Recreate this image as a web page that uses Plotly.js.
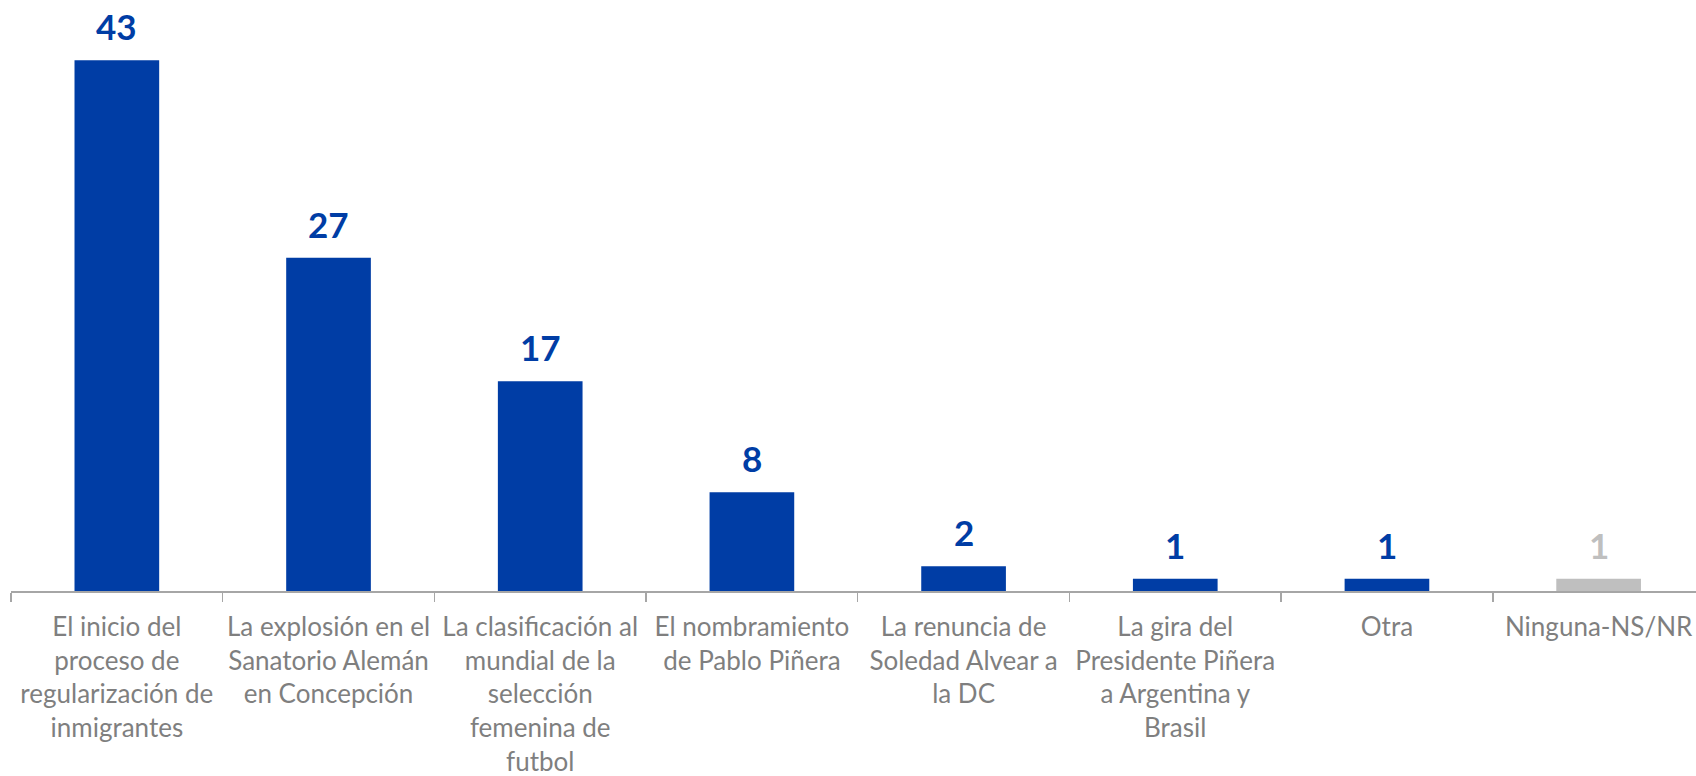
<!DOCTYPE html>
<html>
<head>
<meta charset="utf-8">
<script src="https://cdn.plot.ly/plotly-3.0.1.min.js"></script>
<style>html,body{margin:0;padding:0;background:#fff;}#chart{width:1696px;height:776px;}</style>
</head>
<body>
<div id="chart"></div>
<script>
const categories = [
  "El inicio del proceso de regularización de inmigrantes",
  "La explosión en el Sanatorio Alemán en Concepción",
  "La clasificación al mundial de la selección femenina de futbol",
  "El nombramiento de Pablo Piñera",
  "La renuncia de Soledad Alvear a la DC",
  "La gira del Presidente Piñera a Argentina y Brasil",
  "Otra",
  "Ninguna-NS/NR"
];
const tickLabels = [
  "El inicio del<br>proceso de<br>regularización de<br>inmigrantes",
  "La explosión en el<br>Sanatorio Alemán<br>en Concepción",
  "La clasificación al<br>mundial de la<br>selección<br>femenina de<br>futbol",
  "El nombramiento<br>de Pablo Piñera",
  "La renuncia de<br>Soledad Alvear a<br>la DC",
  "La gira del<br>Presidente Piñera<br>a Argentina y<br>Brasil",
  "Otra",
  "Ninguna-NS/NR"
];
const values = [43, 27, 17, 8, 2, 1, 1, 1];

const BLUE = "#003DA5", GREY = "#BFBFBF";
const barColors = categories.map((c, i) => i === categories.length - 1 ? GREY : BLUE);

const trace = {
  type: "bar",
  x: categories,
  y: values,
  marker: {color: barColors},
  hoverinfo: "x+y"
};

const annotations = categories.map((c, i) => ({
  x: c, y: values[i], xref: "x", yref: "y",
  text: String(values[i]),
  showarrow: false, yanchor: "bottom", yshift: 11,
  font: {family: "Lato, 'Open Sans', sans-serif", size: 35, color: barColors[i], weight: 700}
}));

const layout = {
  width: 1696, height: 776,
  margin: {l: 11, r: 0, t: 0, b: 185},
  paper_bgcolor: "#ffffff", plot_bgcolor: "#ffffff",
  bargap: 0.6,
  showlegend: false,
  xaxis: {
    type: "category",
    range: [-0.5, 7.46],
    tickmode: "array",
    tickvals: categories,
    ticktext: tickLabels,
    tickson: "boundaries",
    ticks: "outside", ticklen: 9, tickwidth: 1.5, tickcolor: "#A6A6A6",
    showline: true, linecolor: "#A6A6A6", linewidth: 1.5,
    showgrid: false, zeroline: false,
    tickangle: 0,
    ticklabelstandoff: 12,
    tickfont: {family: "Lato, 'Open Sans', sans-serif", size: 26, color: "#7F7F7F"},
    fixedrange: true
  },
  yaxis: {
    range: [0, 47.89],
    visible: false, showgrid: false, zeroline: false,
    fixedrange: true
  },
  annotations: annotations
};

Plotly.newPlot("chart", [trace], layout, {displayModeBar: false, staticPlot: true});
</script>
</body>
</html>
